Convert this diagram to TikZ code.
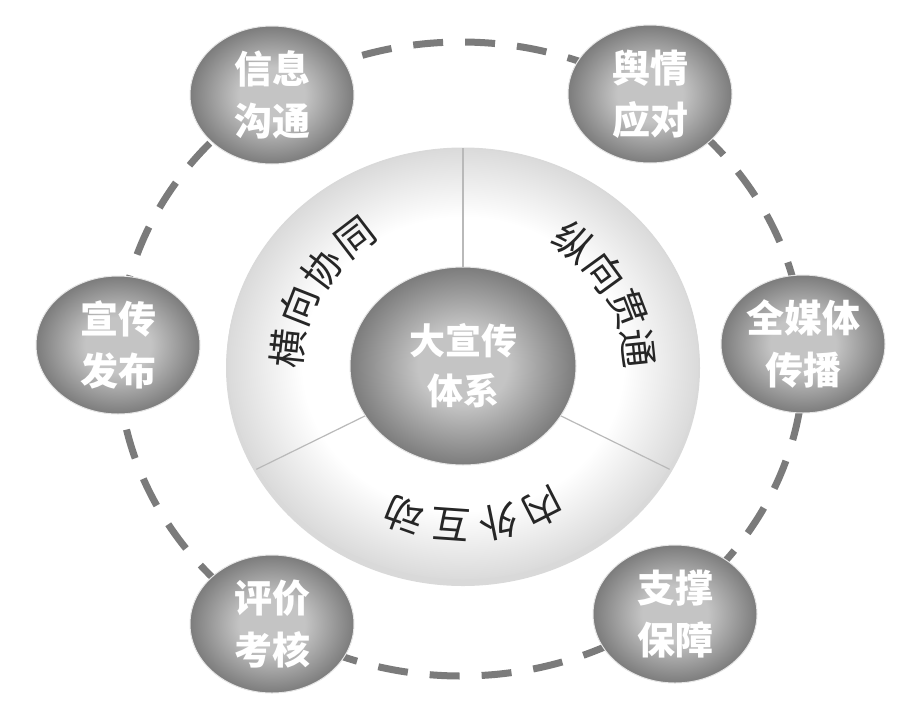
\documentclass[tikz,border=0pt]{standalone}
\usepackage{fontspec}
\newfontfamily\cjk{Noto Sans CJK SC}
\usetikzlibrary{shapes.geometric}

\definecolor{ballin}{HTML}{C4C4C4}
\definecolor{ballout}{HTML}{7C7C7C}
\definecolor{discout}{HTML}{DADADA}
\definecolor{ringgray}{HTML}{7B7B7B}
\pgfdeclareradialshading{ballgray}{\pgfpoint{0bp}{0bp}}{color(0bp)=(ballin); color(10bp)=(ballin); color(25bp)=(ballout); color(50bp)=(ballout)}
\pgfdeclareradialshading{discgray}{\pgfpoint{0bp}{0bp}}{color(0bp)=(white); color(17bp)=(white); color(25bp)=(discout); color(50bp)=(discout)}

\begin{document}
\begin{tikzpicture}[x=1pt, y=-1pt,
    ball/.style = {ellipse, shading=ballgray, draw=white!80!gray, line width=1pt,
                   inner sep=0pt, align=center, text=white,
                   font=\cjk\bfseries\fontsize{38}{52}\selectfont},
    satellite/.style = {ball, minimum width=164pt, minimum height=138pt},
    segment text/.style = {inner sep=0pt, text=black!85, font=\cjk\fontsize{39}{39}\selectfont},
    divider/.style = {draw=gray!55, line width=1.2pt},
    ring/.style = {draw=ringgray, line width=7pt, dash pattern=on 30pt off 22pt}]
  \useasboundingbox (0, 0) rectangle (912, 715);

  % Dashed ring through the outer topics.
  \draw [ring] (461, 359) ellipse [x radius=343, y radius=317];

  % Disc with the three segments.
  \node at (463, 368) [ellipse, fill=gray!30, minimum width=474pt, minimum height=436pt, name=DiscShadow] {};
  \node at (463, 364) [ellipse, shading=discgray, draw=gray!30, line width=1pt,
                       minimum width=472pt, minimum height=432pt, name=Disc] {};
  \node at (463, 366) [ball, minimum width=226pt, minimum height=198pt,
                       font=\cjk\bfseries\fontsize{36}{50}\selectfont, name=Hub] {大宣传\\体系};
  \draw [divider] (Hub.90) -- (Disc.90);
  \draw [divider] (Hub.207) -- (Disc.207);
  \draw [divider] (Hub.333) -- (Disc.333);

  % Segment labels, one character at a time.
  \foreach \ch/\ang in {横/174, 向/158.5, 协/143, 同/127.5}
    \node at ({463+176*cos(\ang)}, {365-160*sin(\ang)}) [segment text, rotate=\ang-90, name=Across\ang] {\ch};
  \foreach \ch/\ang in {纵/51, 向/36, 贯/21, 通/6}
    \node at ({463+176*cos(\ang)}, {365-158*sin(\ang)}) [segment text, rotate=\ang-90, name=Down\ang] {\ch};
  \foreach \ch/\ang in {内/297, 外/281.5, 互/266, 动/250.5}
    \node at ({463+176*cos(\ang)}, {365-160*sin(\ang)}) [segment text, rotate=\ang-90, name=InOut\ang] {\ch};

  % Outer topics.
  \node at (272, 95) [satellite, name=Communication] {信息\\沟通};
  \node at (650, 94) [satellite, name=Opinion] {舆情\\应对};
  \node at (803, 344) [satellite, name=AllMedia] {全媒体\\传播};
  \node at (118, 345) [satellite, name=Release] {宣传\\发布};
  \node at (272, 624) [satellite, name=Evaluation] {评价\\考核};
  \node at (675, 614) [satellite, name=Support] {支撑\\保障};
\end{tikzpicture}
\end{document}
